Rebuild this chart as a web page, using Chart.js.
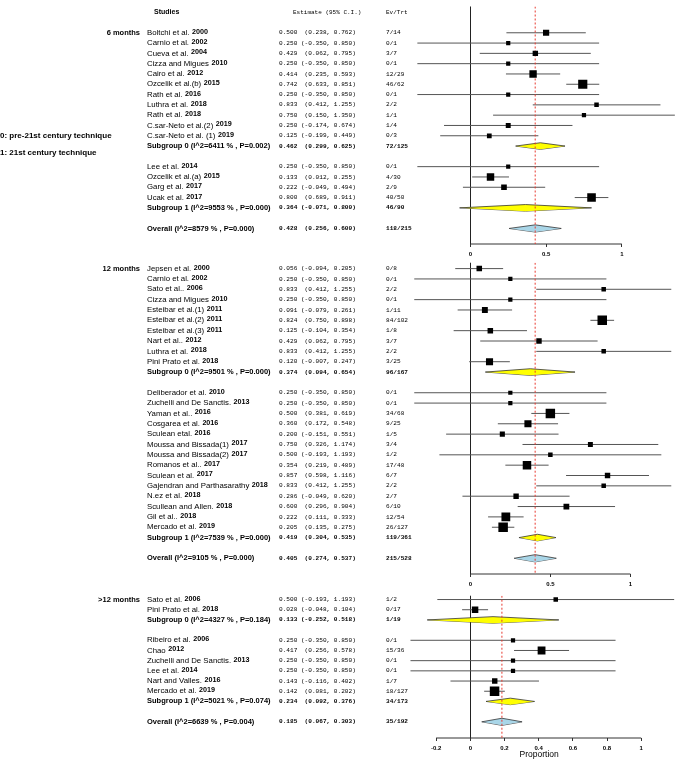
<!DOCTYPE html>
<html>
<head>
<meta charset="utf-8">
<script src="https://cdn.jsdelivr.net/npm/chart.js@4.4.1/dist/chart.umd.min.js"></script>
<style>
  body { margin: 0; background: #fff; }
  #wrap { position: relative; width: 685px; height: 761px; }
  canvas { position: absolute; left: 0; }
</style>
</head>
<body>
<div id="wrap">
  <canvas id="m6" width="685" height="262" style="top:0px"></canvas>
  <canvas id="m12" width="685" height="336" style="top:256px"></canvas>
  <canvas id="m12p" width="685" height="172" style="top:589px"></canvas>
</div>
<script>
// ---- 6 months ----
const m6Names = ['Boltchi et al.', 'Carnio et al.', 'Cueva et al.', 'Cizza and Migues', 'Cairo et al.', 'Ozcelik et al.(b)', 'Rath et al.', 'Luthra et al.', 'Rath et al.', 'C.sar-Neto et al.(2)', 'C.sar-Neto et al. (1)',
  'Lee et al.', 'Ozcelik et al.(a)', 'Garg et al.', 'Ucak et al.'];
const m6Years = ['2000', '2002', '2004', '2010', '2012', '2015', '2016', '2018', '2018', '2019', '2019', '2014', '2015', '2017', '2017'];
const m6Group = [0, 0, 0, 0, 0, 0, 0, 0, 0, 0, 0, 1, 1, 1, 1];
const m6Est = [0.500, 0.250, 0.429, 0.250, 0.414, 0.742, 0.250, 0.833, 0.750, 0.250, 0.125, 0.250, 0.133, 0.222, 0.800];
const m6Lo = [0.238, -0.350, 0.062, -0.350, 0.235, 0.633, -0.350, 0.412, 0.150, -0.174, -0.199, -0.350, 0.012, -0.049, 0.689];
const m6Hi = [0.762, 0.850, 0.795, 0.850, 0.593, 0.851, 0.850, 1.255, 1.350, 0.674, 0.449, 0.850, 0.255, 0.494, 0.911];
const m6Ev = ['7/14', '0/1', '3/7', '0/1', '12/29', '46/62', '0/1', '2/2', '1/1', '1/4', '0/3', '0/1', '4/30', '2/9', '40/50'];
const m6Pool = ['Subgroup 0 (I^2=6411 % , P=0.002)', 'Subgroup 1 (I^2=9553 % , P=0.000)', 'Overall (I^2=8579 % , P=0.000)'];
const m6PoolEst = [0.462, 0.364, 0.428];
const m6PoolLo = [0.299, -0.071, 0.256];
const m6PoolHi = [0.625, 0.800, 0.600];
const m6PoolEv = ['72/125', '46/90', '118/215'];

// ---- 12 months ----
const m12Names = ['Jepsen et al.', 'Carnio et al.', 'Sato et al..', 'Cizza and Migues', 'Esteibar et al.(1)', 'Esteibar et al.(2)', 'Esteibar et al.(3)', 'Nart et al..', 'Luthra et al.', 'Pini Prato et al.',
  'Deliberador et al.', 'Zuchelli and De Sanctis.', 'Yaman et al..', 'Cosgarea et al.', 'Sculean etal.', 'Moussa and Bissada(1)', 'Moussa and Bissada(2)', 'Romanos et al..', 'Sculean et al.',
  'Gajendran and Parthasarathy', 'N.ez et al.', 'Scullean and Allen.', 'Gil et al..', 'Mercado et al.'];
const m12Years = ['2000', '2002', '2006', '2010', '2011', '2011', '2011', '2012', '2018', '2018',
  '2010', '2013', '2016', '2016', '2016', '2017', '2017', '2017', '2017', '2018', '2018', '2018', '2018', '2019'];
const m12Group = [0, 0, 0, 0, 0, 0, 0, 0, 0, 0, 1, 1, 1, 1, 1, 1, 1, 1, 1, 1, 1, 1, 1, 1];
const m12Est = [0.056, 0.250, 0.833, 0.250, 0.091, 0.824, 0.125, 0.429, 0.833, 0.120,
  0.250, 0.250, 0.500, 0.360, 0.200, 0.750, 0.500, 0.354, 0.857, 0.833, 0.286, 0.600, 0.222, 0.205];
const m12Lo = [-0.094, -0.350, 0.412, -0.350, -0.079, 0.750, -0.104, 0.062, 0.412, -0.007,
  -0.350, -0.350, 0.381, 0.172, -0.151, 0.326, -0.193, 0.219, 0.598, 0.412, -0.049, 0.296, 0.111, 0.135];
const m12Hi = [0.205, 0.850, 1.255, 0.850, 0.261, 0.898, 0.354, 0.795, 1.255, 0.247,
  0.850, 0.850, 0.619, 0.548, 0.551, 1.174, 1.193, 0.489, 1.116, 1.255, 0.620, 0.904, 0.333, 0.275];
const m12Ev = ['0/8', '0/1', '2/2', '0/1', '1/11', '84/102', '1/8', '3/7', '2/2', '3/25',
  '0/1', '0/1', '34/68', '9/25', '1/5', '3/4', '1/2', '17/48', '6/7', '2/2', '2/7', '6/10', '12/54', '26/127'];
const m12Pool = ['Subgroup 0 (I^2=9501 % , P=0.000)', 'Subgroup 1 (I^2=7539 % , P=0.000)', 'Overall (I^2=9105 % , P=0.000)'];
const m12PoolEst = [0.374, 0.419, 0.405];
const m12PoolLo = [0.094, 0.304, 0.274];
const m12PoolHi = [0.654, 0.535, 0.537];
const m12PoolEv = ['96/167', '119/361', '215/528'];

// ---- >12 months ----
const m12pNames = ['Sato et al.', 'Pini Prato et al.', 'Ribeiro et al.', 'Chao', 'Zuchelli and De Sanctis.', 'Lee et al.', 'Nart and Valles.', 'Mercado et al.'];
const m12pYears = ['2006', '2018', '2006', '2012', '2013', '2014', '2016', '2019'];
const m12pGroup = [0, 0, 1, 1, 1, 1, 1, 1];
const m12pEst = [0.500, 0.028, 0.250, 0.417, 0.250, 0.250, 0.143, 0.142];
const m12pLo = [-0.193, -0.048, -0.350, 0.256, -0.350, -0.350, -0.116, 0.081];
const m12pHi = [1.193, 0.104, 0.850, 0.578, 0.850, 0.850, 0.402, 0.202];
const m12pEv = ['1/2', '0/17', '0/1', '15/36', '0/1', '0/1', '1/7', '18/127'];
const m12pPool = ['Subgroup 0 (I^2=4327 % , P=0.184)', 'Subgroup 1 (I^2=5021 % , P=0.074)', 'Overall (I^2=6639 % , P=0.004)'];
const m12pPoolEst = [0.133, 0.234, 0.185];
const m12pPoolLo = [-0.252, 0.092, 0.067];
const m12pPoolHi = [0.518, 0.376, 0.303];
const m12pPoolEv = ['1/19', '34/173', '35/192'];

const SANS = '"Liberation Sans", Arial, sans-serif';
const MONO = '"Liberation Mono", "Courier New", monospace';

const panels = [
  { id: 'm6', label: '6 months', names: m6Names, years: m6Years, group: m6Group, est: m6Est, lo: m6Lo, hi: m6Hi, ev: m6Ev,
    pool: m6Pool, poolEst: m6PoolEst, poolLo: m6PoolLo, poolHi: m6PoolHi, poolEv: m6PoolEv,
    ticks: [0, 0.5, 1], xFrom: -0.4645, xTo: 1.3742, yFrom: -2.552, yTo: 20.51, axisH: 18, header: true },
  { id: 'm12', label: '12 months', names: m12Names, years: m12Years, group: m12Group, est: m12Est, lo: m12Lo, hi: m12Hi, ev: m12Ev,
    pool: m12Pool, poolEst: m12PoolEst, poolLo: m12PoolLo, poolHi: m12PoolHi, poolEv: m12PoolEv,
    ticks: [0, 0.5, 1], xFrom: -0.439, xTo: 1.2988, yFrom: -0.568, yTo: 29.52, axisH: 18 },
  { id: 'm12p', label: '>12 months', names: m12pNames, years: m12pYears, group: m12pGroup, est: m12pEst, lo: m12pLo, hi: m12pHi, ev: m12pEv,
    pool: m12pPool, poolEst: m12pPoolEst, poolLo: m12pPoolLo, poolHi: m12pPoolHi, poolEv: m12pPoolEv,
    ticks: [-0.2, 0, 0.2, 0.4, 0.6, 0.8, 1], xFrom: -0.4114, xTo: 1.2171, yFrom: -0.375, yTo: 13.59, axisH: 23, title: 'Proportion' }
];

// studies of group 0, subgroup 0, blank, studies of group 1, subgroup 1, blank, overall
function buildRows(p) {
  const rows = [];
  let r = 0;
  [0, 1].forEach(g => {
    p.names.forEach((n, i) => {
      if (p.group[i] !== g) return;
      rows.push({ kind: 'study', row: r++, name: n, year: p.years[i], est: p.est[i], lo: p.lo[i], hi: p.hi[i], ev: p.ev[i] });
    });
    rows.push({ kind: 'sub', row: r++, name: p.pool[g], est: p.poolEst[g], lo: p.poolLo[g], hi: p.poolHi[g], ev: p.poolEv[g] });
    r++;
  });
  rows.push({ kind: 'overall', row: r, name: p.pool[2], est: p.poolEst[2], lo: p.poolLo[2], hi: p.poolHi[2], ev: p.poolEv[2] });
  return rows;
}

// square size grows with the number treated
function markerSide(ev) {
  const n = Number(ev.split('/')[1]);
  return Math.min(9.5, 3.5 + 0.72 * Math.sqrt(n));
}

function ciText(d) {
  return d.est.toFixed(3) + ' ' + ('(' + d.lo.toFixed(3)).padStart(7) + ', ' + d.hi.toFixed(3) + ')';
}

function textPlugin(p, rows) {
  return {
    id: 'forestText',
    afterDraw(chart) {
      const ctx = chart.ctx;
      const y = chart.scales.y;
      ctx.save();
      ctx.textBaseline = 'middle';
      ctx.fillStyle = '#000';
      if (p.header) {
        const hy = y.getPixelForValue(-2);
        ctx.font = 'bold 7px ' + SANS;
        ctx.fillText('Studies', 154, hy);
        ctx.font = '6px ' + MONO;
        ctx.fillText('Estimate (95% C.I.)', 293, hy);
        ctx.fillText('Ev/Trt', 386, hy);
        ctx.font = 'bold 8px ' + SANS;
        ctx.fillText('0: pre-21st century technique', 0, y.getPixelForValue(10));
        ctx.fillText('1: 21st century technique', 0, y.getPixelForValue(11.62));
      }
      ctx.font = 'bold 7.5px ' + SANS;
      ctx.textAlign = 'right';
      ctx.fillText(p.label, 140, y.getPixelForValue(0));
      ctx.textAlign = 'left';
      rows.forEach(d => {
        const py = y.getPixelForValue(d.row);
        const bold = d.kind !== 'study';
        if (bold) {
          ctx.font = 'bold 7.5px ' + SANS;
          ctx.fillText(d.name, 147, py);
        } else {
          ctx.font = '7.8px ' + SANS;
          ctx.fillText(d.name, 147, py);
          const w = ctx.measureText(d.name).width;
          ctx.font = 'bold 7.2px ' + SANS;
          ctx.fillText(d.year, 147 + w + 2.5, py - 1);
        }
        ctx.font = (bold ? 'bold ' : '') + '6.1px ' + MONO;
        ctx.fillText(ciText(d), 279, py);
        ctx.fillText(d.ev, 386, py);
      });
      ctx.restore();
    }
  };
}

panels.forEach(p => {
  const rows = buildRows(p);
  const studies = rows.filter(d => d.kind === 'study');
  const pooled = rows.filter(d => d.kind !== 'study');
  const overall = pooled[pooled.length - 1].est;

  const datasets = [];
  datasets.push({
    type: 'scatter', order: 0,
    data: studies.map(d => ({ x: d.est, y: d.row })),
    pointStyle: 'rect',
    pointRadius: studies.map(d => markerSide(d.ev) / 1.414),
    backgroundColor: '#000', borderWidth: 0
  });
  datasets.push({
    type: 'line', order: 1,
    data: [{ x: overall, y: p.yFrom }, { x: overall, y: p.yTo }],
    borderColor: '#e8392f', borderWidth: 1, borderDash: [2, 2], pointRadius: 0
  });
  pooled.forEach(d => {
    const h = d.kind === 'overall' ? 0.35 : 0.32;
    const fillC = d.kind === 'overall' ? '#a9d6e8' : '#ffff00';
    datasets.push({
      type: 'line', order: 2,
      data: [{ x: d.lo, y: d.row }, { x: d.est, y: d.row - h }, { x: d.hi, y: d.row }],
      fill: '+1', backgroundColor: fillC, borderColor: '#333', borderWidth: 0.8, pointRadius: 0
    });
    datasets.push({
      type: 'line', order: 2,
      data: [{ x: d.lo, y: d.row }, { x: d.est, y: d.row + h }, { x: d.hi, y: d.row }],
      fill: false, borderColor: '#333', borderWidth: 0.8, pointRadius: 0
    });
  });
  const ciData = [];
  studies.forEach(d => {
    ciData.push({ x: d.lo, y: d.row }, { x: d.hi, y: d.row }, { x: null, y: null });
  });
  datasets.push({
    type: 'line', order: 3, data: ciData,
    borderColor: '#555', borderWidth: 1, pointRadius: 0, spanGaps: false
  });
  // axis line only over the tick range
  datasets.push({
    type: 'line', order: 4, clip: false,
    data: [{ x: p.ticks[0], y: p.yTo }, { x: p.ticks[p.ticks.length - 1], y: p.yTo }],
    borderColor: '#333', borderWidth: 1, pointRadius: 0
  });

  new Chart(document.getElementById(p.id), {
    type: 'scatter',
    data: { datasets: datasets },
    options: {
      responsive: false,
      animation: false,
      events: [],
      layout: { padding: { left: 400, right: 0, top: 0, bottom: 0 } },
      plugins: { legend: { display: false }, tooltip: { enabled: false } },
      scales: {
        x: {
          type: 'linear', min: p.xFrom, max: p.xTo,
          afterBuildTicks: s => { s.ticks = p.ticks.map(v => ({ value: v })); },
          afterFit: s => { s.height = p.axisH; },
          border: { display: false },
          grid: {
            color: c => (c.tick && c.tick.value === 0) ? '#222' : 'rgba(0,0,0,0)',
            tickColor: '#333', tickLength: 3, lineWidth: 1
          },
          ticks: {
            color: '#000', padding: 4, maxRotation: 0, autoSkip: false,
            font: { size: 6, weight: 'bold', family: SANS },
            callback: v => String(v)
          },
          title: {
            display: !!p.title, text: p.title || '', color: '#000',
            font: { size: 8.5, family: SANS }, padding: { top: 0, bottom: 1 }
          }
        },
        y: { type: 'linear', display: false, reverse: true, min: p.yFrom, max: p.yTo }
      }
    },
    plugins: [textPlugin(p, rows)]
  });
});
</script>
</body>
</html>
